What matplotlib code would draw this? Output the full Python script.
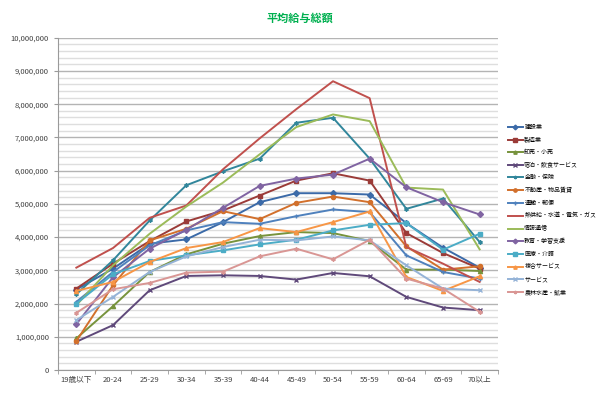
import numpy as np
import matplotlib
matplotlib.use('Agg')
import matplotlib.pyplot as plt
from matplotlib.ticker import MultipleLocator, FuncFormatter

plt.rcParams['font.family'] = ['Noto Sans CJK JP', 'DejaVu Sans']

ages = ['19歳以下', '20-24', '25-29', '30-34', '35-39', '40-44',
        '45-49', '50-54', '55-59', '60-64', '65-69', '70以上']

# 平均給与総額 (円) in millions
kensetsu  = [2.42, 3.05, 3.80, 3.93, 4.45, 5.05, 5.32, 5.32, 5.28, 4.42, 3.68, 3.08]
seizou    = [2.45, 3.20, 3.88, 4.47, 4.80, 5.25, 5.70, 5.92, 5.70, 4.12, 3.52, 3.05]
oroshi    = [0.95, 1.92, 2.95, 3.48, 3.80, 4.03, 4.15, 4.12, 3.88, 3.02, 3.02, 2.98]
shukuhaku = [0.85, 1.35, 2.40, 2.83, 2.85, 2.83, 2.72, 2.92, 2.82, 2.20, 1.88, 1.80]
kinyu     = [2.28, 3.30, 4.50, 5.56, 5.98, 6.36, 7.44, 7.59, 6.36, 4.85, 5.16, 3.85]
fudousan  = [0.87, 2.55, 3.90, 4.25, 4.78, 4.54, 5.03, 5.22, 5.05, 3.72, 3.02, 3.12]
unyu      = [2.05, 2.95, 3.75, 4.20, 4.45, 4.40, 4.63, 4.83, 4.75, 3.45, 2.95, 2.75]
netsu     = [3.08, 3.67, 4.58, 4.95, 6.04, 6.97, 7.85, 8.69, 8.18, 3.70, 3.20, 2.65]
joho      = [1.95, 3.15, 4.10, 4.92, 5.64, 6.49, 7.31, 7.69, 7.49, 5.49, 5.43, 3.63]
kyoiku    = [1.38, 2.79, 3.65, 4.22, 4.88, 5.54, 5.76, 5.88, 6.36, 5.50, 5.05, 4.68]
iryo      = [2.00, 2.88, 3.28, 3.45, 3.60, 3.78, 3.92, 4.20, 4.37, 4.42, 3.62, 4.10]
fukugou   = [2.38, 2.65, 3.25, 3.67, 3.85, 4.27, 4.15, 4.45, 4.77, 2.80, 2.38, 2.82]
service   = [1.50, 2.20, 2.95, 3.42, 3.70, 3.92, 3.90, 4.02, 3.90, 3.15, 2.45, 2.40]
nourin    = [1.72, 2.43, 2.62, 2.93, 2.96, 3.42, 3.65, 3.33, 3.92, 2.75, 2.45, 1.75]

series = [
    ('建設業', kensetsu, '#3B6AA8', 'D'),
    ('製造業', seizou, '#9B3B38', 's'),
    ('卸売・小売', oroshi, '#77933C', '^'),
    ('宿泊・飲食サービス', shukuhaku, '#5F497A', 'x'),
    ('金融・保険', kinyu, '#31869B', (6, 2, 0)),
    ('不動産・物品賃貸', fudousan, '#D2702C', 'o'),
    ('運輸・郵便', unyu, '#4F81BD', '+'),
    ('熱供給・水道・電気・ガス', netsu, '#C0504D', ''),
    ('情報通信', joho, '#9BBB59', ''),
    ('教育・学習支援', kyoiku, '#8064A2', 'D'),
    ('医療・介護', iryo, '#4BACC6', 's'),
    ('複合サービス', fukugou, '#F79646', '^'),
    ('サービス', service, '#95B3D7', 'x'),
    ('農林水産・鉱業', nourin, '#D99694', (6, 2, 0)),
]

fig = plt.figure(figsize=(6, 3.95), dpi=100)
ax = fig.add_axes([58 / 600, 25 / 395, 440 / 600, 332.3 / 395])

x = np.arange(len(ages))
for label, vals, color, mk in series:
    ax.plot(x, np.array(vals) * 1e6, color=color, linewidth=1.4,
            marker=mk if mk else None, markersize=3.0, markeredgewidth=1.0,
            label=label)

ax.set_xlim(-0.5, len(ages) - 0.5)
ax.set_ylim(0, 10_000_000)
ax.yaxis.set_major_locator(MultipleLocator(1_000_000))
ax.yaxis.set_minor_locator(MultipleLocator(200_000))
ax.yaxis.set_major_formatter(FuncFormatter(lambda v, p: f'{int(v):,}'))
ax.grid(which='minor', axis='y', color='#DEDEDE', linewidth=1.0)
ax.grid(which='major', axis='y', color='#B4B4B4', linewidth=1.0)
ax.set_axisbelow(True)

ax.set_xticks(x)
ax.set_xticklabels(ages)
ax.set_xticks(np.arange(-0.5, len(ages)), minor=True)
ax.tick_params(axis='x', which='major', length=0, labelsize=5.5,
               colors='#404040', pad=4)
ax.tick_params(axis='x', which='minor', length=3, color='#9A9A9A')
ax.tick_params(axis='y', which='major', length=3, labelsize=5.5,
               colors='#404040', color='#9A9A9A')
ax.tick_params(axis='y', which='minor', length=0)

for side in ['top', 'right']:
    ax.spines[side].set_visible(False)
for side in ['left', 'bottom']:
    ax.spines[side].set_color('#9A9A9A')
    ax.spines[side].set_linewidth(0.8)

fig.text(0.5, 1 - 18 / 395, '平均給与総額', ha='center', va='center',
         fontsize=8, fontweight='bold', color='#00B050')

fig.legend(loc='upper left', bbox_to_anchor=(0.843, 0.69), frameon=False,
           fontsize=4.3, handlelength=2.4, handletextpad=0.3,
           labelspacing=1.16, borderaxespad=0, markerscale=0.8)

fig.savefig('out.png', dpi=100)
plt.close(fig)
